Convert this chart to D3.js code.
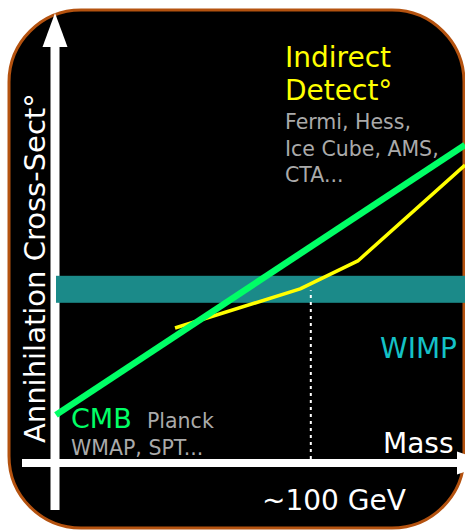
<!DOCTYPE html>
<html>
<head>
<meta charset="utf-8">
<script src="https://cdn.jsdelivr.net/npm/d3@7"></script>
<style>
  html, body { margin: 0; padding: 0; background: #ffffff; }
  svg { display: block; }
  text { font-family: "DejaVu Sans", sans-serif; }
</style>
</head>
<body>
<div id="chart"></div>
<script>
// ---- Data (schematic units: mass 0..100, cross-section 0..100) ----
const cmbLine = [[0, 10.7], [100, 70.7]];                       // CMB constraint (green)
const indirectLine = [[29.1, 30.0], [59.7, 38.7], [73.8, 44.9], [100, 66.2]]; // Indirect detection (yellow)
const wimpBand = [35.6, 41.6];                                  // WIMP thermal cross-section band (y range)
const wimpMass = 62.3;                                          // ~100 GeV marker
const xLabels = ["Mass", "~100 GeV"];
const yLabel = "Annihilation Cross-Sect°";
const indirectTitle = ["Indirect", "Detect°"];
const indirectExps = ["Fermi, Hess,", "Ice Cube, AMS,", "CTA..."];
const cmbTitle = "CMB";
const cmbExps = ["Planck", "WMAP, SPT..."];
const wimpLabel = "WIMP";

const W = 465, H = 531;
const svg = d3.select("#chart").append("svg").attr("width", W).attr("height", H);

// panel
svg.append("rect")
  .attr("x", 9).attr("y", 10).attr("width", 455).attr("height", 518)
  .attr("rx", 72).attr("ry", 72)
  .attr("fill", "#000").attr("stroke", "#b4520f").attr("stroke-width", 3);

const x = d3.scaleLinear().domain([0, 100]).range([56, 465]);
const y = d3.scaleLinear().domain([0, 100]).range([463, 13]);

// axes (arrows)
const axisG = svg.append("g");
// y axis shaft
axisG.append("line")
  .attr("x1", 55).attr("x2", 55).attr("y1", 510).attr("y2", y(100) + 30)
  .attr("stroke", "#fff").attr("stroke-width", 9);
axisG.append("path")
  .attr("d", `M${55},${y(100)} L${42.5},${y(100) + 34} L${67.5},${y(100) + 34} Z`)
  .attr("fill", "#fff");
// x axis shaft
axisG.append("line")
  .attr("x1", 22).attr("x2", 460).attr("y1", y(0)).attr("y2", y(0))
  .attr("stroke", "#fff").attr("stroke-width", 8);
axisG.append("path")
  .attr("d", `M${457},${y(0) - 11.5} L${491},${y(0)} L${457},${y(0) + 11.5} Z`)
  .attr("fill", "#fff");

// WIMP band
svg.append("rect")
  .attr("x", x(0)).attr("width", W - x(0))
  .attr("y", y(wimpBand[1])).attr("height", y(wimpBand[0]) - y(wimpBand[1]))
  .attr("fill", "#1b8a89");

// dotted marker at ~100 GeV
svg.append("line")
  .attr("x1", x(wimpMass)).attr("x2", x(wimpMass))
  .attr("y1", y(0) - 4).attr("y2", y(38.4))
  .attr("stroke", "#fff").attr("stroke-width", 2).attr("stroke-dasharray", "3,4");

const line = d3.line().x(d => x(d[0])).y(d => y(d[1]));

svg.append("path").datum(indirectLine).attr("d", line)
  .attr("fill", "none").attr("stroke", "#ffff00").attr("stroke-width", 3.5)
  .attr("stroke-linejoin", "round");

svg.append("path").datum(cmbLine).attr("d", line)
  .attr("fill", "none").attr("stroke", "#00ff66").attr("stroke-width", 6.5);

// texts
svg.append("text")
  .attr("transform", "translate(45,443) rotate(-90)")
  .attr("fill", "#fff").attr("font-size", 29).text(yLabel);

svg.append("text").attr("x", 383).attr("y", 453).attr("fill", "#fff").attr("font-size", 28).text(xLabels[0]);
svg.append("text").attr("x", 262).attr("y", 510).attr("fill", "#fff").attr("font-size", 28).text(xLabels[1]);

indirectTitle.forEach((t, i) => {
  svg.append("text").attr("x", 285).attr("y", 67 + i * 33)
    .attr("fill", "#ffff00").attr("font-size", 28).text(t);
});
indirectExps.forEach((t, i) => {
  svg.append("text").attr("x", 285).attr("y", 129 + i * 26.5)
    .attr("fill", "#aaaaaa").attr("font-size", 20.5).text(t);
});

svg.append("text").attr("x", 380).attr("y", 358).attr("fill", "#14c1c6").attr("font-size", 28).text(wimpLabel);

svg.append("text").attr("x", 71).attr("y", 428).attr("fill", "#00ff66").attr("font-size", 27).text(cmbTitle);
svg.append("text").attr("x", 147).attr("y", 428).attr("fill", "#aaaaaa").attr("font-size", 20.5).text(cmbExps[0]);
svg.append("text").attr("x", 71).attr("y", 455).attr("fill", "#aaaaaa").attr("font-size", 20.5).text(cmbExps[1]);
</script>
</body>
</html>
